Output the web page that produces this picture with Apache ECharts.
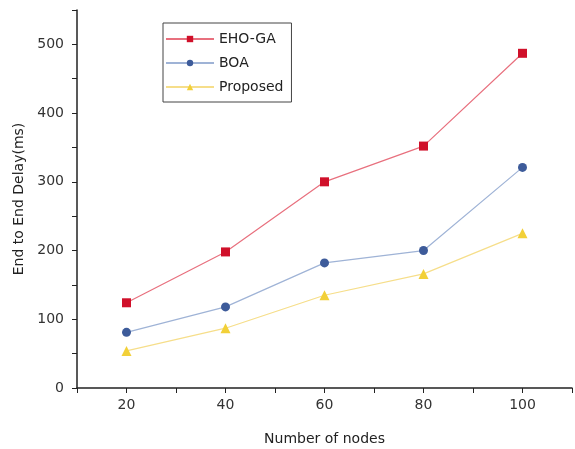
<!DOCTYPE html>
<html><head><meta charset="utf-8">
<script src="https://cdn.jsdelivr.net/npm/echarts@6/dist/echarts.min.js"></script>
<style>html,body{margin:0;padding:0;background:#fff}#c{width:575px;height:449px}</style>
</head><body><div id="c"></div>
<script>
const nodes = [20, 40, 60, 80, 100];
const ehoGA = [124, 198, 300, 352, 487];
const boa = [81, 118, 182, 200, 321];
const proposed = [54, 87, 135, 166, 225];
const seriesNames = ['EHO-GA', 'BOA', 'Proposed'];

const pair = arr => nodes.map((n, i) => [n, arr[i]]);
const font = '"DejaVu Sans", Verdana, sans-serif';
const chart = echarts.init(document.getElementById('c'), null, {renderer: 'canvas'});
chart.setOption({
  animation: false,
  backgroundColor: '#fff',
  grid: {left: 77, top: 10, right: 3, bottom: 61, outerBoundsMode: 'none', containLabel: false},
  legend: {
    orient: 'vertical', left: 163, top: 23,
    itemWidth: 48, itemHeight: 8, itemGap: 10,
    padding: [9, 8, 8, 2],
    borderColor: '#444', borderWidth: 1,
    textStyle: {fontFamily: font, fontSize: 14, color: '#222'},
    data: seriesNames
  },
  xAxis: {
    type: 'value', min: 10, max: 110, interval: 10,
    name: 'Number of nodes', nameLocation: 'middle', nameGap: 44,
    nameTextStyle: {fontFamily: font, fontSize: 14, color: '#222'},
    axisLine: {lineStyle: {color: '#222', width: 1.5}},
    axisTick: {length: 5, lineStyle: {color: '#222'}},
    axisLabel: {fontFamily: font, fontSize: 14, color: '#333', margin: 10,
      formatter: v => (v % 20 === 0 ? String(v) : '')},
    splitLine: {show: false}
  },
  yAxis: {
    type: 'value', min: 0, max: 550, interval: 50,
    name: 'End to End Delay(ms)', nameLocation: 'middle', nameGap: 50,
    nameTextStyle: {fontFamily: font, fontSize: 14, color: '#222'},
    axisLine: {show: true, lineStyle: {color: '#222', width: 1.5}},
    axisTick: {show: true, length: 5, lineStyle: {color: '#222'}},
    axisLabel: {fontFamily: font, fontSize: 14, color: '#333', margin: 13,
      formatter: v => (v % 100 === 0 && v <= 500 ? String(v) : '')},
    splitLine: {show: false}
  },
  series: [
    {name: seriesNames[0], type: 'line', data: pair(ehoGA), symbol: 'rect', symbolSize: 9,
      lineStyle: {color: '#e8707e', width: 1.2}, itemStyle: {color: '#d0102a'}},
    {name: seriesNames[1], type: 'line', data: pair(boa), symbol: 'circle', symbolSize: 9,
      lineStyle: {color: '#9fb3d6', width: 1.2}, itemStyle: {color: '#3d5b9a'}},
    {name: seriesNames[2], type: 'line', data: pair(proposed), symbol: 'triangle', symbolSize: 10,
      lineStyle: {color: '#f6de8a', width: 1.2}, itemStyle: {color: '#f2d038'}}
  ]
});
</script></body></html>
